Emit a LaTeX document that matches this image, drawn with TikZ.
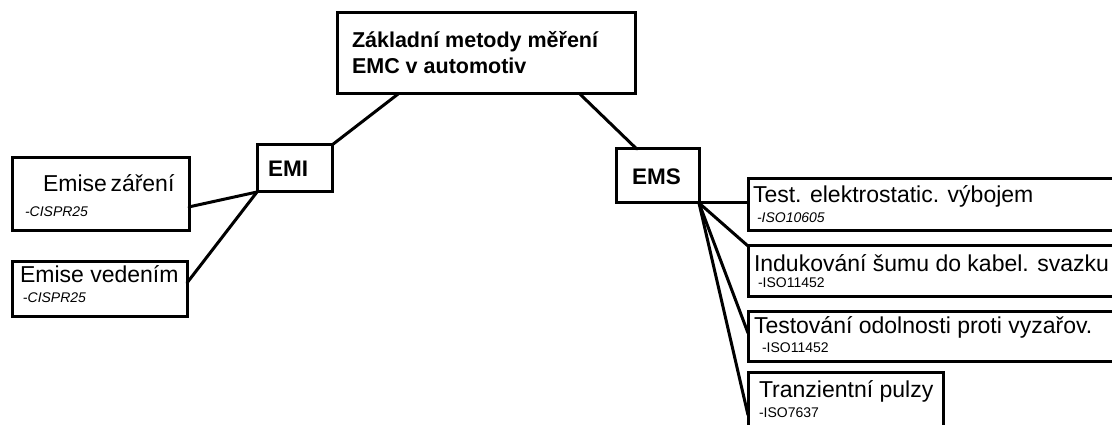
\documentclass[tikz,border=0pt]{standalone}
\usepackage{fontspec}
\setmainfont{Liberation Sans}
\usetikzlibrary{calc}
\begin{document}
\begin{tikzpicture}[x=1pt,y=1pt,
  box/.style={draw=black,line width=3pt,inner sep=0pt,outer sep=0pt,anchor=north west},
  conn/.style={draw=black,line width=3pt,line cap=round},
  big/.style={anchor=base west,inner sep=0pt,outer sep=0pt,font=\fontsize{23}{27}\selectfont},
  bigbold/.style={anchor=base west,inner sep=0pt,outer sep=0pt,font=\fontsize{22.5}{27}\selectfont\bfseries},
  small/.style={anchor=base west,inner sep=0pt,outer sep=0pt,font=\fontsize{14}{16}\selectfont}]
\path[use as bounding box] (0,0) rectangle (1112,425);
\clip (0,0) rectangle (1112,425);

% boxes
\node[box,minimum width=298,minimum height=81] (title) at (337,412) {};

\node[box,minimum width=75,minimum height=47] (emi) at (257,280) {};

\node[box,minimum width=83,minimum height=54] (ems) at (616,276) {};

\node[box,minimum width=177,minimum height=73] (zar) at (12,267) {};

\node[box,minimum width=175,minimum height=55] (ved) at (12,163) {};

\node[box,minimum width=400,minimum height=52] (esd) at (748,246) {};

\node[box,minimum width=400,minimum height=51] (bci) at (748,179) {};

\node[box,minimum width=400,minimum height=50] (rad) at (748,113) {};

\node[box,minimum width=195,minimum height=70] (tra) at (748,52) {};

% connectors
\draw[conn] ($(title.south west)!0.205!(title.south east)$) -- (emi.north east);

\draw[conn] ($(title.south west)!0.815!(title.south east)$) --
	($(ems.north west)!0.25!(ems.north east)$);

\draw[conn] (emi.south west) -- ($(zar.south east)!0.33!(zar.north east)$);

\draw[conn] (emi.south west) -- ($(ved.south east)!0.62!(ved.north east)$);

\draw[conn] (ems.south east) -- (ems.south east -| esd.west);

\draw[conn] (ems.south east) -- (bci.north west);

\draw[conn] (ems.south east) -- ($(rad.south west)!0.58!(rad.north west)$);

\draw[conn] (ems.south east) -- ($(tra.north west)+(0,-42)$);

% texts
\node[bigbold,font=\fontsize{21.5}{26}\selectfont\bfseries] (titleA) at (352,377) {Základní metody měření};

\node[bigbold,font=\fontsize{21.5}{26}\selectfont\bfseries] (titleB) at (352,351) {EMC v automotiv};

\node[bigbold] (emiT) at (268,248) {EMI};

\node[bigbold] (emsT) at (632,240) {EMS};

\node[big] (zarT) at (43,233) {Emise\hspace{-0.12em} záření};

\node[small,font=\fontsize{14}{16}\selectfont\itshape] (zarN) at (25,208) {-CISPR25};

\node[big] (vedT) at (20,142) {Emise vedením};

\node[small,font=\fontsize{14}{16}\selectfont\itshape] (vedN) at (23,122) {-CISPR25};

\node[big] (esdT) at (753,222) {Test. elektrostatic. výbojem};

\node[small,font=\fontsize{14}{16}\selectfont\itshape] (esdN) at (757,202) {-ISO10605};

\node[big] (bciT) at (754,153) {Indukování šumu do kabel. svazku};

\node[small] (bciN) at (758,137) {-ISO11452};

\node[big] (radT) at (754,91) {Testování odolnosti proti vyzařov.};

\node[small] (radN) at (762,72) {-ISO11452};

\node[big] (traT) at (759,27) {Tranzientní pulzy};

\node[small] (traN) at (759,7) {-ISO7637};
\end{tikzpicture}
\end{document}
